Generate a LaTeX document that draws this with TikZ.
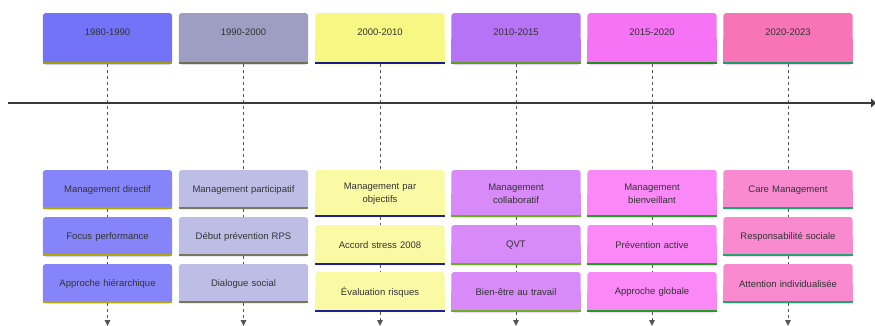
\documentclass[tikz,border=0pt]{standalone}
\usepackage{fontspec}
\setmainfont{Liberation Sans}
\usetikzlibrary{backgrounds,arrows.meta}

% period header colours (fill / bottom rule)
\definecolor{hAf}{HTML}{7373F7}\definecolor{hAl}{HTML}{A39C0C}
\definecolor{hBf}{HTML}{9E9EC2}\definecolor{hBl}{HTML}{6E6E55}
\definecolor{hCf}{HTML}{F7F784}\definecolor{hCl}{HTML}{1B1B85}
\definecolor{hDf}{HTML}{B673F5}\definecolor{hDl}{HTML}{5A9E1E}
\definecolor{hEf}{HTML}{F773F5}\definecolor{hEl}{HTML}{1E8E1E}
\definecolor{hFf}{HTML}{F774B6}\definecolor{hFl}{HTML}{1E9A6A}
% item card colours (fill / bottom rule)
\definecolor{cAf}{HTML}{8585F9}\definecolor{cAl}{HTML}{B3A80A}
\definecolor{cBf}{HTML}{BDBDE6}\definecolor{cBl}{HTML}{77775E}
\definecolor{cCf}{HTML}{FAFAA5}\definecolor{cCl}{HTML}{20209A}
\definecolor{cDf}{HTML}{D88AF9}\definecolor{cDl}{HTML}{6AAE22}
\definecolor{cEf}{HTML}{FA88F7}\definecolor{cEl}{HTML}{1EA01E}
\definecolor{cFf}{HTML}{F98AD0}\definecolor{cFl}{HTML}{1EA66E}
\definecolor{ink}{HTML}{333333}
\definecolor{axis}{HTML}{3A3A3A}
\definecolor{guide}{HTML}{555555}

\tikzset{
  cardtext/.style={font=\fontsize{9.5}{12.7}\selectfont, text=ink, align=center},
  header/.style={cardtext, anchor=north, minimum width=129pt, text width=115pt,
    inner xsep=0pt, inner ysep=0pt, text height=22.5pt, text depth=28.5pt},
  item/.style={cardtext, anchor=north, minimum width=129pt, text width=115pt,
    inner xsep=0pt, inner ysep=0pt, minimum height=#1},
  guideline/.style={draw=guide, line width=0.9pt, dash pattern=on 3pt off 3pt},
  guidearrow/.style={guideline, -{Triangle[length=6pt,width=5.5pt]}},
  timeline/.style={draw=axis, line width=2.6pt, -{Triangle[length=5pt,width=9pt]}},
}

\begin{document}
\begin{tikzpicture}[x=1pt,y=-1pt]
\useasboundingbox (0,0) rectangle (875,325);

% period headers
\node[header] (h1) at (107.5,13) {1980-1990};
\node[header] (h2) at (243.5,13) {1990-2000};
\node[header] (h3) at (380,13)   {2000-2010};
\node[header] (h4) at (516,13)   {2010-2015};
\node[header] (h5) at (652,13)   {2015-2020};
\node[header] (h6) at (788,13)   {2020-2023};

% item cards, three per period
\node[item=39pt] (a1) at (107.5,170) {Management directif};
\node[item=39pt] (b1) at (107.5,217) {Focus performance};
\node[item=39pt] (c1) at (107.5,264) {Approche hiérarchique};

\node[item=39pt] (a2) at (243.5,170) {Management participatif};
\node[item=39pt] (b2) at (243.5,217) {Début prévention RPS};
\node[item=39pt] (c2) at (243.5,264) {Dialogue social};

\node[item=47pt] (a3) at (380,170) {Management par\\objectifs};
\node[item=40pt] (b3) at (380,225) {Accord stress 2008};
\node[item=40pt] (c3) at (380,272) {Évaluation risques};

\node[item=47pt] (a4) at (516,170) {Management\\collaboratif};
\node[item=40pt] (b4) at (516,225) {QVT};
\node[item=40pt] (c4) at (516,272) {Bien-être au travail};

\node[item=47pt] (a5) at (652,170) {Management\\bienveillant};
\node[item=40pt] (b5) at (652,225) {Prévention active};
\node[item=40pt] (c5) at (652,272) {Approche globale};

\node[item=39pt] (a6) at (788,170) {Care Management};
\node[item=39pt] (b6) at (788,217) {Responsabilité sociale};
\node[item=39pt] (c6) at (788,264) {Attention individualisée};

% card backgrounds: rounded top, square bottom, coloured bottom rule
\begin{pgfonlayer}{background}
\foreach \n/\f/\l in {h1/hAf/hAl,h2/hBf/hBl,h3/hCf/hCl,h4/hDf/hDl,h5/hEf/hEl,h6/hFf/hFl,
    a1/cAf/cAl,b1/cAf/cAl,c1/cAf/cAl,a2/cBf/cBl,b2/cBf/cBl,c2/cBf/cBl,
    a3/cCf/cCl,b3/cCf/cCl,c3/cCf/cCl,a4/cDf/cDl,b4/cDf/cDl,c4/cDf/cDl,
    a5/cEf/cEl,b5/cEf/cEl,c5/cEf/cEl,a6/cFf/cFl,b6/cFf/cFl,c6/cFf/cFl}{
  \fill[\f, rounded corners=3pt] (\n.south west) rectangle (\n.north east);
  \fill[\f] (\n.south west) rectangle (\n.east);
  \fill[\l] (\n.south west) rectangle ([yshift=2.6pt]\n.south east);
}
\end{pgfonlayer}

% dashed guides down each period
\foreach \i/\x in {1/107.5,2/243.5,3/380,4/516,5/652,6/788}{
  \coordinate (e\i) at (\x,326);
  \draw[guideline] (h\i) -- (a\i);
  \draw[guideline] (a\i) -- (b\i);
  \draw[guideline] (b\i) -- (c\i);
  \draw[guidearrow] (c\i) -- (e\i);
}

% time axis
\coordinate (t0) at (8,103);
\coordinate (t1) at (876,103);
\draw[timeline] (t0) -- (t1);
\end{tikzpicture}
\end{document}
